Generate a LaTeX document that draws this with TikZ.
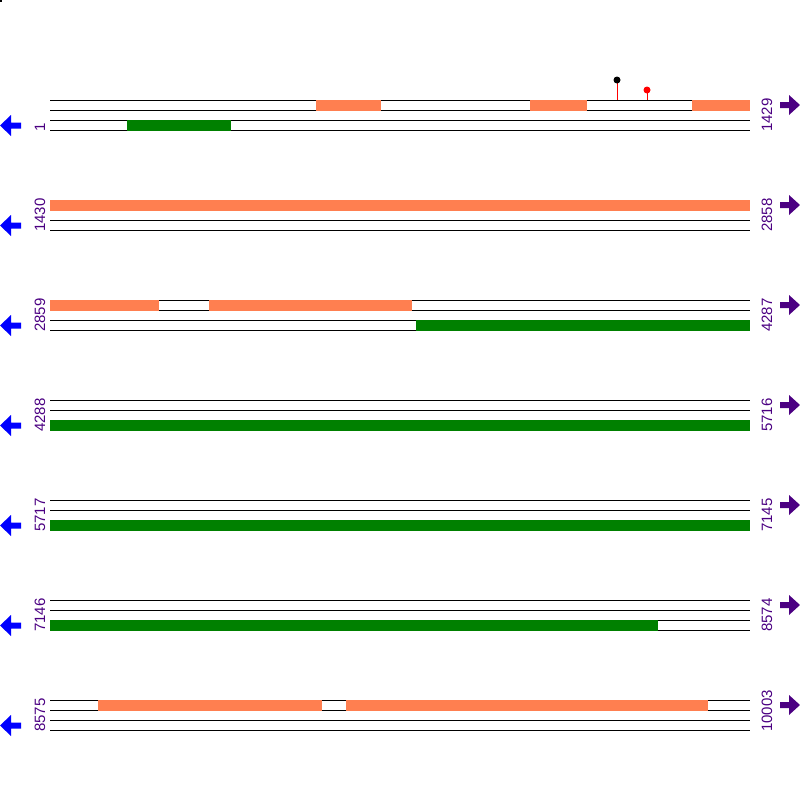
\documentclass[tikz,border=0pt]{standalone}
\usepackage{fontspec}
\setmainfont{Liberation Sans}
\definecolor{cdsc}{RGB}{255,127,80}
\definecolor{orfc}{RGB}{0,128,0}
\definecolor{numc}{RGB}{75,0,130}
\definecolor{revc}{RGB}{0,0,255}

\begin{document}
\begin{tikzpicture}[x=1pt, y=-1pt,
  strand/.style={draw=black, line width=1pt},
  fwdbox/.style={fill=cdsc},
  revbox/.style={fill=orfc},
  poslbl/.style={font=\fontsize{15}{15}\selectfont, text=numc, rotate=90, anchor=base west, inner sep=0pt},
  leftarr/.style={fill=revc},
  rightarr/.style={fill=numc}]
  \useasboundingbox (0,0) rectangle (800,800);
  \fill (0,0) rectangle (2,2);
  % rows of the sequence, four strands each
  \foreach \r/\a/\b in {0/1/1429, 1/1430/2858, 2/2859/4287, 3/4288/5716,
                        4/5717/7145, 5/7146/8574, 6/8575/10003} {
    \pgfmathsetmacro{\y}{100*\r+100}
    \foreach \d in {0,10,20,30}
      \draw[strand] (50,\y+\d) -- (750,\y+\d);
    \node[poslbl] (l\r) at (45,\y+32) {\a};
    \node[poslbl] (r\r) at (772,\y+32) {\b};
    % arrows
    \fill[leftarr] (0,\y+25.5) -- (11,\y+15) -- (11,\y+22.5) -- (21,\y+22.5)
      -- (21,\y+28.5) -- (11,\y+28.5) -- (11,\y+36) -- cycle;
    \fill[rightarr] (800,\y+5) -- (789,\y-5) -- (789,\y+2) -- (780,\y+2)
      -- (780,\y+8) -- (789,\y+8) -- (789,\y+15) -- cycle;
  }
  % forward features
  \foreach \xa/\xb/\y in {316/381/100, 530/587/100, 692/750/100, 50/750/200,
                          50/159/300, 209/412/300, 98/322/700, 346/708/700}
    \fill[fwdbox] (\xa,\y-0.5) rectangle (\xb,\y+10.5);
  % reverse features
  \foreach \xa/\xb/\y in {127/231/120, 416/750/320, 50/750/420, 50/750/520,
                          50/658/620}
    \fill[revbox] (\xa,\y-0.5) rectangle (\xb,\y+10.5);
  % sites
  \draw[red, line width=1pt] (617,80) -- (617,100);
  \draw[red, line width=1pt] (647,90) -- (647,100);
  \fill[black] (617,80) circle (3.5);
  \fill[red] (647,90) circle (3.5);
\end{tikzpicture}
\end{document}
